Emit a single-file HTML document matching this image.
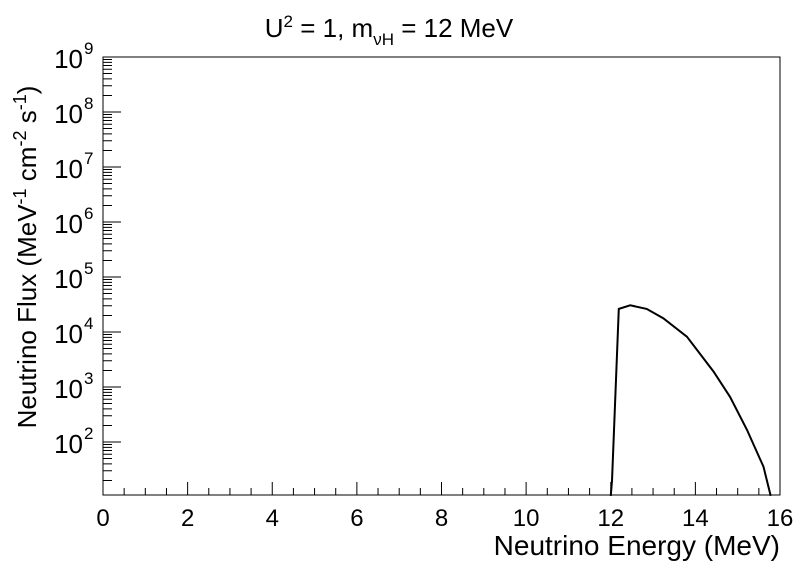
<!DOCTYPE html>
<html><head><meta charset="utf-8"><style>
body{margin:0;background:#fff;}
svg text{font-family:"Liberation Sans",sans-serif;fill:#000;}
</style></head><body>
<svg width="796" height="572" xmlns="http://www.w3.org/2000/svg">
<g id="axes"></g>
<text x="389" y="37" font-size="26" text-anchor="middle">U<tspan dy="-10" font-size="17">2</tspan><tspan dy="10"> = 1, m</tspan><tspan dy="8" font-size="17">νH</tspan><tspan dy="-8"> = 12 MeV</tspan></text>
<text x="780" y="555" font-size="28" text-anchor="end">Neutrino Energy (MeV)</text>
<text transform="translate(36,257) rotate(-90)" font-size="26" text-anchor="middle">Neutrino Flux (MeV<tspan dy="-10" font-size="18">-1</tspan><tspan dy="10"> cm</tspan><tspan dy="-10" font-size="18">-2</tspan><tspan dy="10"> s</tspan><tspan dy="-10" font-size="18">-1</tspan><tspan dy="10">)</tspan></text>
</svg>
<script>
const energies=[12.0,12.03,12.19,12.46,12.85,13.24,13.8,14.43,14.82,15.22,15.61,15.78];
const logFlux=[1.02,1.3,4.42,4.485,4.42,4.25,3.915,3.28,2.82,2.22,1.55,1.02];
const xTicks=[0,2,4,6,8,10,12,14,16];
const yDecades=[2,3,4,5,6,7,8,9];
const L=103,R=780,T=57,B=495,xmin=0,xmax=16,ytop=9,ybot=9-(B-T)/55;
const X=v=>L+(v-xmin)/(xmax-xmin)*(R-L);
const Y=l=>T+(ytop-l)/(ytop-ybot)*(B-T);
const svg=document.querySelector('svg'),g=document.getElementById('axes'),NS='http://www.w3.org/2000/svg';
function mk(t,a,p){const e=document.createElementNS(NS,t);for(const k in a)e.setAttribute(k,a[k]);(p||g).appendChild(e);return e;}
const fr=mk('rect',{x:L,y:T,width:R-L,height:B-T,fill:'none',stroke:'#000','stroke-width':1});


let d='';
for(let v=0;v<=16.001;v+=0.5){const maj=Math.abs(v/2-Math.round(v/2))<1e-6;d+=`M${X(v)},${B}V${B-(maj?13:7)}`;}
for(let k=1;k<9;k++){for(let m=1;m<10;m++){const l=k+Math.log10(m);if(l<ybot)continue;d+=`M${L},${Y(l)}H${L+(m==1?18:9)}`;}}
d+=`M${L},${Y(9)}H${L+18}`;
const tk=mk('path',{d:d,stroke:'#000','stroke-width':1,fill:'none'});


xTicks.forEach(v=>{const t=mk('text',{x:X(v),y:526,'font-size':24,'text-anchor':'middle'},svg);t.textContent=v;

});
yDecades.forEach(k=>{const t=mk('text',{x:83,y:Y(k)+11,'font-size':26,'text-anchor':'end'},svg);t.textContent='10';


const s=mk('text',{x:84,y:Y(k)-3,'font-size':17},svg);s.textContent=k;

});
const pts=energies.map((e,i)=>X(e)+','+Y(logFlux[i])).join(' ');
const line=mk('polyline',{points:pts,fill:'none',stroke:'#000','stroke-width':2},svg);


</script>
</body></html>
